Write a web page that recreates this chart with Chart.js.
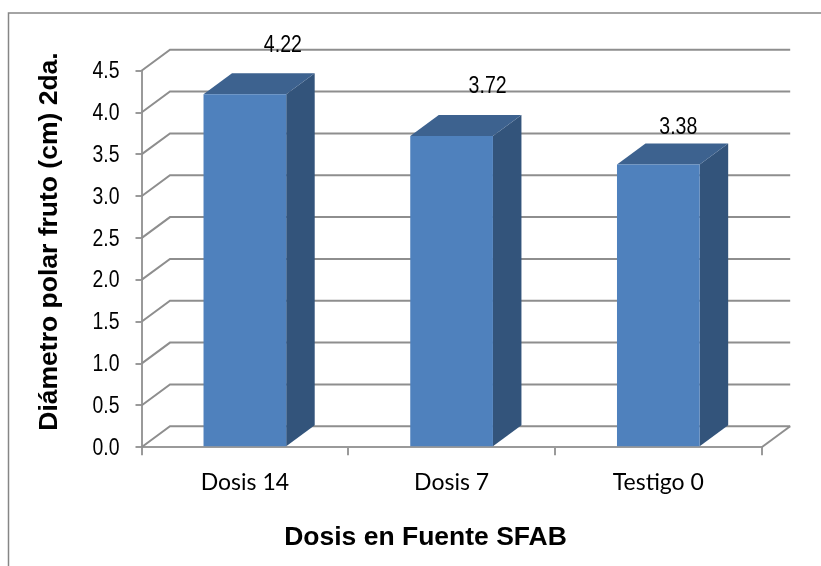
<!DOCTYPE html>
<html>
<head>
<meta charset="utf-8">
<style>html,body{margin:0;padding:0;background:#fff}canvas{display:block}</style>
<script src="https://cdn.jsdelivr.net/npm/chart.js@4"></script>
</head>
<body>
<canvas id="c" width="821" height="566"></canvas>
<script>
const categories = ["Dosis 14", "Dosis 7", "Testigo 0"];
const values = [4.22, 3.72, 3.38];
const yMin = 0, yMax = 4.5, yStep = 0.5;
const xTitle = "Dosis en Fuente SFAB";
const yTitle = "Diámetro polar fruto (cm) 2da.";
const labelNudge = [[38, -49], [36, -49], [20, -37]];

const DX = 28.5, DY = 21;
const GRID = "#8e8e8e", AXIS = "#9a9a9a";
const FRONT = "#4f81bd", SIDE = "#33547b", TOP = "#3d628f";
const SANS = '"Liberation Sans",Arial,sans-serif';

const depth3d = {
  id: "depth3d",
  beforeDraw(chart) {
    const c = chart.ctx;
    c.save();
    c.strokeStyle = "#868686"; c.lineWidth = 1.5;
    c.beginPath(); c.moveTo(chart.width, 13); c.lineTo(8.5, 13); c.lineTo(8.5, chart.height); c.stroke();
    c.restore();
  },
  beforeDatasetsDraw(chart) {
    const c = chart.ctx, y = chart.scales.y, a = chart.chartArea;
    c.save();
    c.strokeStyle = GRID; c.lineWidth = 2;
    y.ticks.forEach(t => {
      const p = y.getPixelForValue(t.value);
      c.beginPath(); c.moveTo(a.left, p); c.lineTo(a.left + DX, p - DY); c.lineTo(a.right + DX, p - DY);
      c.stroke();
    });
    const b0 = y.getPixelForValue(yMin);
    c.beginPath(); c.moveTo(a.right, b0); c.lineTo(a.right + DX, b0 - DY); c.stroke();
    chart.getDatasetMeta(0).data.forEach(b => {
      const l = b.x - b.width / 2, r = b.x + b.width / 2;
      c.fillStyle = SIDE;
      c.beginPath(); c.moveTo(r, b.y); c.lineTo(r + DX, b.y - DY); c.lineTo(r + DX, b.base - DY); c.lineTo(r, b.base); c.closePath(); c.fill();
      c.fillStyle = TOP;
      c.beginPath(); c.moveTo(l, b.y); c.lineTo(l + DX, b.y - DY); c.lineTo(r + DX, b.y - DY); c.lineTo(r, b.y); c.closePath(); c.fill();
    });
    c.restore();
  },
  afterDatasetsDraw(chart) {
    const c = chart.ctx, y = chart.scales.y;
    c.save();
    c.fillStyle = "#000"; c.textBaseline = "middle";
    c.font = "23.5px " + SANS;
    c.textAlign = "right";
    y.ticks.forEach(t => {
      c.fillText(Number(t.value).toFixed(1), 119.5, y.getPixelForValue(t.value) + 1, 27);
    });
    c.textAlign = "center";
    chart.getDatasetMeta(0).data.forEach((b, i) => {
      c.fillText(values[i].toFixed(2), b.x + labelNudge[i][0], b.y + labelNudge[i][1], 38);
    });
    c.font = "bold 25px " + SANS;
    c.save();
    c.translate(425.5, 538); c.scale(1.06, 1);
    c.fillText(xTitle, 0, 0);
    c.restore();
    c.translate(50.5, 241.5); c.rotate(-Math.PI / 2); c.scale(1.06, 1);
    c.fillText(yTitle, 0, 0);
    c.restore();
  }
};

new Chart(document.getElementById("c"), {
  type: "bar",
  data: { labels: categories, datasets: [{ data: values, backgroundColor: FRONT, borderWidth: 0, categoryPercentage: 0.4, barPercentage: 1 }] },
  plugins: [depth3d],
  options: {
    responsive: false, animation: false,
    layout: { padding: { top: 70.7, right: 59.3, left: 0, bottom: 0 } },
    plugins: { legend: { display: false }, tooltip: { enabled: false }, title: { display: false } },
    scales: {
      x: {
        offset: true,
        afterFit(s) { s.height = 566 - 447.3; },
        border: { color: AXIS, width: 2 },
        grid: { offset: true, drawOnChartArea: false, color: AXIS, lineWidth: 2, tickLength: 8 },
        ticks: { color: "#000", padding: 13, maxRotation: 0, font: { family: 'Lato,"Noto Sans",sans-serif', size: 23 } }
      },
      y: {
        min: yMin, max: yMax,
        afterFit(s) { s.width = 141.5; },
        border: { color: AXIS, width: 2 },
        grid: { drawOnChartArea: false, color: AXIS, lineWidth: 2, tickLength: 6 },
        ticks: { stepSize: yStep, display: false }
      }
    }
  }
});
</script>
</body>
</html>
